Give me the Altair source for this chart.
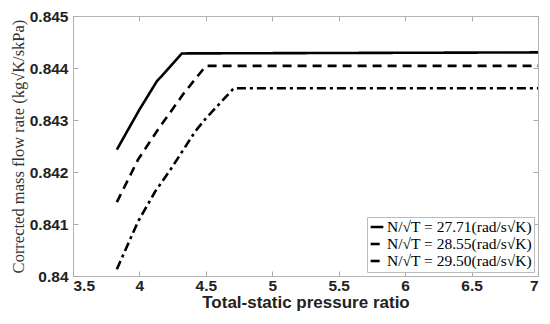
import altair as alt
import pandas as pd

labels = ["N/\u221aT = 27.71(rad/s\u221aK)", "N/\u221aT = 28.55(rad/s\u221aK)", "N/\u221aT = 29.50(rad/s\u221aK)"]

x1 = [3.83, 4.0, 4.13, 4.32, 7.0]
y1 = [0.84243, 0.8432, 0.84374, 0.84428, 0.8443]
x2 = [3.83, 3.99, 4.13, 4.33, 4.5, 7.0]
y2 = [0.84142, 0.84224, 0.84278, 0.8435, 0.84404, 0.84404]
x3 = [3.83, 3.99, 4.12, 4.24, 4.42, 4.5, 4.71, 7.0]
y3 = [0.84013, 0.84105, 0.84163, 0.84207, 0.84278, 0.84303, 0.84361, 0.84361]

xticks = [3.5, 4, 4.5, 5, 5.5, 6, 6.5, 7]
yticks = [0.84, 0.841, 0.842, 0.843, 0.844, 0.845]

rows = []
for i, (xs, ys) in enumerate([(x1, y1), (x2, y2), (x3, y3)]):
    for j, (a, b) in enumerate(zip(xs, ys)):
        rows.append({"x": a, "y": b, "series": labels[i], "order": j})
df = pd.DataFrame(rows)

sans = "Liberation Sans"
serif = "Liberation Serif"

xs = alt.Scale(domain=[3.5, 7], nice=False)
ys = alt.Scale(domain=[0.84, 0.845], nice=False, zero=False)

base = alt.Chart(df)

lines = base.mark_line(strokeWidth=2.6, color="black").encode(
    x=alt.X("x:Q", scale=xs, axis=alt.Axis(
        orient="bottom", values=xticks, format="~g", title="Total-static pressure ratio",
        titleFont=sans, titleFontSize=17, titleFontWeight="bold", titleColor="#222",
        labelFont=sans, labelFontSize=15.5, labelFontWeight="bold", labelColor="#222",
        domain=False, grid=False, tickSize=5, offset=-5, labelPadding=2,
        tickColor="#aaa", titlePadding=1)),
    y=alt.Y("y:Q", scale=ys, axis=alt.Axis(
        orient="left", values=yticks, format=".3~f",
        title="Corrected mass flow rate (kg\u221aK/skPa)",
        titleFont=serif, titleFontSize=16.5, titleFontWeight="normal", titleColor="#333",
        labelFont=sans, labelFontSize=15.5, labelFontWeight="bold", labelColor="#222",
        domain=False, grid=False, tickSize=5, offset=-5, labelPadding=5,
        tickColor="#aaa", titlePadding=3)),
    strokeDash=alt.StrokeDash("series:N", scale=alt.Scale(
        domain=labels, range=[[1, 0], [9, 6], [9, 4, 3, 4]]),
        legend=alt.Legend(
            title=None, orient="bottom-right", offset=4, symbolType="stroke",
            symbolStrokeColor="black", symbolStrokeWidth=2.6, symbolSize=160,
            labelFont=serif, labelFontSize=15.5, labelColor="black",
            fillColor="white", strokeColor="#bbb", padding=2, rowPadding=0,
            labelOffset=2, symbolOffset=0)),
    order="order:Q",
)

top = base.mark_line(opacity=0).encode(
    x=alt.X("x:Q", scale=xs, axis=alt.Axis(
        orient="top", values=xticks, labels=False, title=None, domain=False,
        grid=False, tickSize=5, offset=-5, tickColor="#aaa")),
    y=alt.Y("y:Q", scale=ys, axis=alt.Axis(
        orient="right", values=yticks, labels=False, title=None, domain=False,
        grid=False, tickSize=5, offset=-5, tickColor="#aaa")),
)

chart = alt.layer(lines, top).resolve_axis(x="independent", y="independent").properties(
    width=465, height=260,
    autosize=alt.AutoSizeParams(type="none"),
    padding={"left": 65, "top": 8, "right": 4, "bottom": 40},
).configure_view(stroke="#b5b5b5", strokeWidth=1)

chart.save("out.html", embed_options={"renderer": "svg", "actions": False})
